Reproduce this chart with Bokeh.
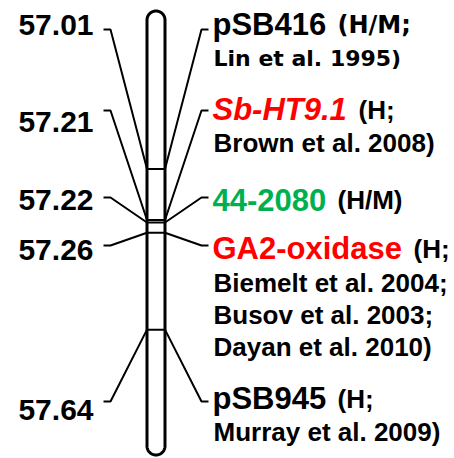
import numpy as np
from bokeh.plotting import figure
from bokeh.models import Range1d
from bokeh.core.properties import value
from bokeh.embed import file_html
from bokeh.resources import INLINE

# ---------------- data ----------------
positions = [57.01, 57.21, 57.22, 57.26, 57.64]
pos_labels = ["57.01", "57.21", "57.22", "57.26", "57.64"]
markers = ["pSB416", "Sb-HT9.1", "44-2080", "GA2-oxidase", "pSB945"]
marker_colors = ["black", "#FF0000", "#00B050", "#FF0000", "black"]
marker_styles = ["bold", "bold italic", "bold", "bold", "bold"]
tags = ["(H/M;", "(H;", "(H/M)", "(H;", "(H;"]
refs = [["Lin et al. 1995)"],
        ["Brown et al. 2008)"],
        [],
        ["Biemelt et al. 2004;", "Busov et al. 2003;", "Dayan et al. 2010)"],
        ["Murray et al. 2009)"]]

# ---------------- layout (pixels) ----------------
W, H = 454, 458
PX_PER_UNIT = 255.0
ANCHOR_PX = 168.5                      # pixel row of first position
top_val = positions[0] - ANCHOR_PX / PX_PER_UNIT


def px2v(py):
    return top_val + py / PX_PER_UNIT


TXT_SHIFT = -9                         # baseline correction for svg text
CX, HALF = 155.5, 9.0                  # chromosome centre / half width
CHROM_TOP, CHROM_BOT = 10.5, 454.5     # apex rows (px)
tick_px = [29, 110, 197, 245, 401]     # label connector rows
num_base_px = [33, 130, 208, 258, 418]  # baseline of left numbers
NUM_RIGHT = 93
MARK_X, REF_X = 212, 213
mark_base_px = [33, 118, 208, 257, 407]
tag_x = [337, 358, 337, 413, 337]
tag_fonts = ["DejaVu Sans", "Liberation Sans", "Liberation Sans", "Liberation Sans", "Liberation Sans"]
tag_sizes = ["24px", "26px", "26px", "26px", "26px"]
ref_first_px = [67, 151, None, 291, 440]
REF_STEP = 32


def tv(py):
    return px2v(py + TXT_SHIFT)


p = figure(width=W, height=H, x_range=Range1d(0, W),
           y_range=Range1d(px2v(H), px2v(0)),
           output_backend="svg", toolbar_location=None,
           x_axis_location=None, y_axis_location=None, min_border=0)
p.min_border_left = p.min_border_right = 0
p.min_border_top = p.min_border_bottom = 0
p.grid.visible = False
p.outline_line_color = None
p.background_fill_color = "white"
p.border_fill_color = "white"

# connectors
xs, ys = [], []
for v, t in zip(positions, tick_px):
    ty = px2v(t)
    xs.append([CX - HALF - 43.5, CX - HALF - 36.5, CX - HALF])
    ys.append([ty, ty, v])
    xs.append([CX + HALF, CX + HALF + 36.5, CX + HALF + 43.5])
    ys.append([v, ty, ty])
p.multi_line(xs=xs, ys=ys, line_color="black", line_width=2)

# chromosome outline
r = HALF
t1 = np.linspace(np.pi, 0, 40)
t2 = np.linspace(0, -np.pi, 40)
top_c = CHROM_TOP + r
bot_c = CHROM_BOT - r
ox = np.concatenate([CX + r * np.cos(t1), CX + r * np.cos(t2), [CX - r]])
oy_px = np.concatenate([top_c - r * np.sin(t1), bot_c - r * np.sin(t2), [top_c]])
p.patch(x=ox, y=[px2v(v) for v in oy_px], fill_color="white", line_color="black", line_width=3)

# bands
p.segment(x0=[CX - HALF] * len(positions), x1=[CX + HALF] * len(positions),
          y0=positions, y1=positions, line_color="black", line_width=2)

# left numbers
p.text(x=[NUM_RIGHT] * len(pos_labels), y=[tv(b) for b in num_base_px], text=pos_labels,
       text_font=value("Liberation Sans"), text_font_style="bold", text_font_size="30px",
       text_align="right", text_baseline="alphabetic", text_color="black")

# markers, tags and references
for i, m in enumerate(markers):
    p.text(x=[MARK_X], y=[tv(mark_base_px[i])], text=[m],
           text_font=value("Liberation Sans"), text_font_style=marker_styles[i],
           text_font_size="31px", text_align="left", text_baseline="alphabetic",
           text_color=marker_colors[i])
    p.text(x=[tag_x[i]], y=[tv(mark_base_px[i])], text=[tags[i]],
           text_font=value(tag_fonts[i]), text_font_style="bold",
           text_font_size=tag_sizes[i], text_align="left", text_baseline="alphabetic",
           text_color="black")
    for j, rt in enumerate(refs[i]):
        font = "DejaVu Sans" if i == 0 else "Liberation Sans"
        size = "22px" if i == 0 else "26px"
        p.text(x=[REF_X], y=[tv(ref_first_px[i] + j * REF_STEP)], text=[rt],
               text_font=value(font), text_font_style="bold", text_font_size=size,
               text_align="left", text_baseline="alphabetic", text_color="black")

open("out.html", "w").write(file_html(p, INLINE))
